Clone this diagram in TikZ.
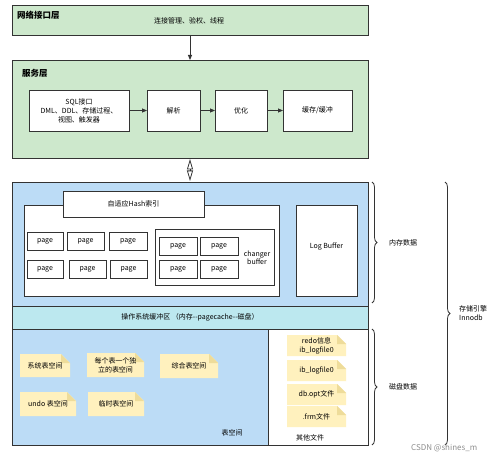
\documentclass[tikz,border=0pt]{standalone}
\usepackage{fontspec}
\newfontfamily\cjk{Noto Sans CJK SC}
\usetikzlibrary{arrows.meta,decorations.pathreplacing}
\definecolor{grn}{HTML}{CDE8CC}
\definecolor{blu}{HTML}{BCDCF6}
\definecolor{cyn}{HTML}{BCE8EF}
\definecolor{notefill}{HTML}{FFF1BE}
\definecolor{notefold}{HTML}{EEDC9A}
\definecolor{edge}{HTML}{333333}
\newcommand\mybox[6]{\node[box,#6,minimum width=#3pt,minimum height=#4pt] (#5) at (#1,#2) {};}
\newcommand\mylbox[7]{\node[box,#6,minimum width=#3pt,minimum height=#4pt,align=center,anchor=center] (#5) at ({#1+#3/2},{#2+#4/2}) {#7};}
\newcommand\stickynote[6]{%
  \fill[notefill] (#1,#2) -- ({#1+#3-9},#2) -- ({#1+#3},{#2+9}) -- ({#1+#3},{#2+#4}) -- (#1,{#2+#4}) -- cycle;
  \fill[notefold] ({#1+#3-9},#2) -- ({#1+#3-9},{#2+9}) -- ({#1+#3},{#2+9}) -- cycle;
  \node[align=center,inner sep=0pt] (#5) at ({#1+#3/2},{#2+#4/2}) {#6};}
\begin{document}
\begin{tikzpicture}[x=1pt,y=-1pt,
  font=\cjk\fontsize{7}{9}\selectfont,
  box/.style={draw=edge,line width=0.8pt,inner sep=0pt,outer sep=0pt,anchor=north west},
  title/.style={font=\cjk\bfseries\fontsize{8.5}{10}\selectfont,anchor=west,inner sep=0pt},
  lbl/.style={inner sep=0pt,align=center},
  arr/.style={-{Triangle[length=5pt,width=4pt]},line width=0.9pt,draw=edge},
  brc/.style={decorate,decoration={brace,amplitude=5pt},line width=0.8pt,draw=edge}]
\useasboundingbox (0,0) rectangle (499,460);
% network layer
\mybox{12}{5}{356}{30}{net}{fill=grn}
\node[title] (nett) at (17,15) {网络接口层};
\node[lbl] (nettx) at (189,21) {连接管理、验权、线程};
% service layer
\mybox{12}{60}{356}{98}{svc}{fill=grn}
\node[title] (svct) at (22,73) {服务层};
\mylbox{29}{90}{100}{41}{sql}{fill=white}{SQL接口\\DML、DDL、存储过程、\\视图、触发器}
\mylbox{147}{90}{53}{41}{parse}{fill=white}{解析}
\mylbox{215}{90}{52}{41}{opt}{fill=white}{优化}
\mylbox{283}{90}{69}{41}{cache}{fill=white}{缓存/缓冲}
\draw[arr] (net.south) -- (svc.north);
\draw[arr] (sql.east) -- (parse.west);
\draw[arr] (parse.east) -- (opt.west);
\draw[arr] (opt.east) -- (cache.west);
% memory area
\mybox{12}{182}{356}{124}{mem}{fill=blu}
\draw[{Triangle[open,length=10.5pt,width=6pt]}-{Triangle[open,length=10.5pt,width=6pt]},line width=0.8pt,draw=edge] ([yshift=-1pt]svc.south) -- ([yshift=1pt]mem.north);
\mybox{24}{205}{255}{91}{pool}{fill=white}
\mylbox{63}{191}{141}{26}{hash}{fill=white}{自适应Hash索引}
\mylbox{27}{232}{36}{18}{p1}{fill=white}{page}
\mylbox{67}{232}{37}{18}{p2}{fill=white}{page}
\mylbox{109}{232}{38}{18}{p3}{fill=white}{page}
\mylbox{27}{260}{36}{18}{p4}{fill=white}{page}
\mylbox{69}{260}{37}{18}{p5}{fill=white}{page}
\mylbox{110}{260}{37}{18}{p6}{fill=white}{page}
\mybox{155}{229}{119}{56}{chg}{fill=white}
\mylbox{159}{237}{38}{18}{c1}{fill=white}{page}
\mylbox{200}{237}{38}{18}{c2}{fill=white}{page}
\mylbox{159}{260}{38}{18}{c3}{fill=white}{page}
\mylbox{200}{260}{38}{18}{c4}{fill=white}{page}
\node[lbl,font=\cjk\fontsize{7}{8.5}\selectfont] (chgt) at (257,258) {changer\\buffer};
\mybox{296}{205}{61}{91}{logb}{fill=white}
\node[lbl] (logbt) at (326.5,247) {Log Buffer};
% OS buffer strip
\mylbox{12}{306}{356}{23}{os}{fill=cyn}{操作系统缓冲区 （内存--pagecache--磁盘）}
% disk area
\mybox{12}{329}{256}{116}{ts}{fill=blu}
\mybox{268}{329}{100}{116}{other}{fill=white}
\stickynote{20}{354}{50}{23}{n1}{系统表空间}
\stickynote{87}{353}{57}{24}{n2}{每个表一个独\\立的表空间}
\stickynote{160}{354}{58}{24}{n3}{综合表空间}
\stickynote{20}{392}{56}{24}{n4}{undo 表空间}
\stickynote{88}{392}{56}{24}{n5}{临时表空间}
\node[lbl] (tst) at (232,433) {表空间};
\stickynote{287}{335}{59}{21}{f1}{redo信息\\ib\_logfile0}
\stickynote{287}{360}{59}{21}{f2}{ib\_logfile0}
\stickynote{287}{384}{59}{21}{f3}{db.opt文件}
\stickynote{287}{406}{59}{21}{f4}{.frm文件}
\node[lbl] (othert) at (310,438) {其他文件};
% braces
\coordinate (b1a) at (372,182);
\coordinate (b1b) at (372,303);
\coordinate (b2a) at (372,329);
\coordinate (b2b) at (372,445);
\coordinate (b3a) at (445,182);
\coordinate (b3b) at (445,445);
\draw[brc] (b1a) -- (b1b);
\draw[brc] (b2a) -- (b2b);
\draw[brc] (b3a) -- (b3b);
\node[lbl,anchor=west] (memt) at (389,243) {内存数据};
\node[lbl,anchor=west] (diskt) at (389,387) {磁盘数据};
\node[lbl,anchor=west,align=left] (engt) at (459,313) {存储引擎\\Innodb};
\node[lbl,anchor=west,text=black!45,font=\cjk\fontsize{8}{9}\selectfont] (wm) at (411,448) {CSDN @shines\_m};
\end{tikzpicture}
\end{document}
